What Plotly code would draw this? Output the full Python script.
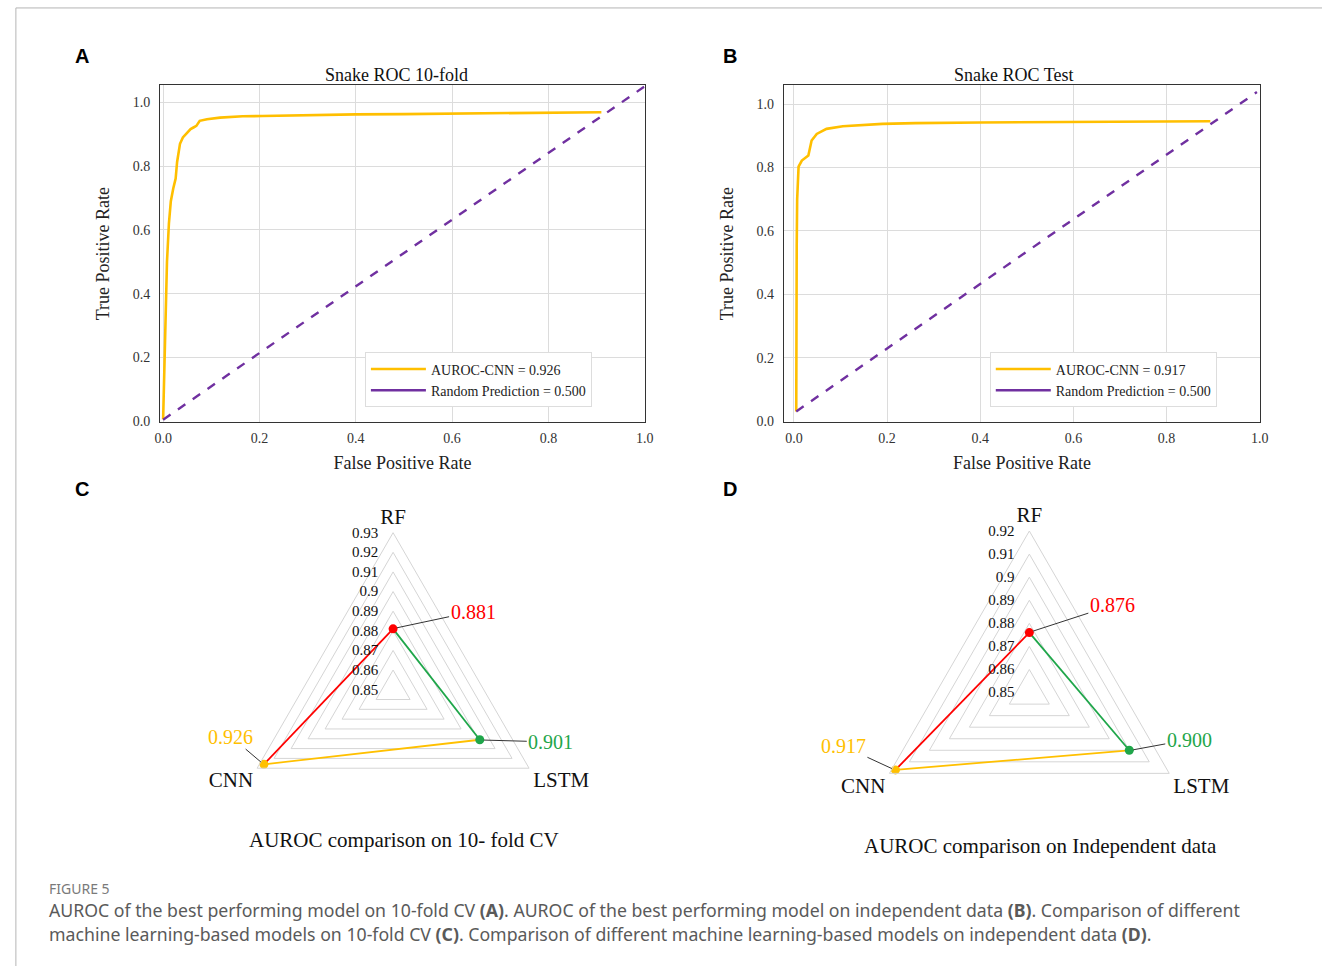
import math
import plotly.graph_objects as go

W, H = 1331, 973

# ---------------- data ----------------
# Panel A: ROC 10-fold
fpr_cv = [0.0, 0.002, 0.005, 0.008, 0.012, 0.016, 0.021, 0.026, 0.029, 0.035, 0.041, 0.050,
          0.057, 0.063, 0.069, 0.076, 0.091, 0.118, 0.165, 0.206, 0.30, 0.40, 0.50, 0.60,
          0.70, 0.80, 0.91]
tpr_cv = [0.006, 0.15, 0.32, 0.50, 0.62, 0.69, 0.73, 0.761, 0.813, 0.870, 0.890, 0.906,
          0.916, 0.921, 0.926, 0.942, 0.947, 0.952, 0.956, 0.957, 0.960, 0.962, 0.963, 0.965,
          0.966, 0.968, 0.969]
rand_cv_x = [0.0, 1.0]
rand_cv_y = [0.005, 1.05]

# Panel B: ROC test
fpr_test = [0.005, 0.005, 0.006, 0.007, 0.008, 0.010, 0.017, 0.031, 0.038, 0.049, 0.070,
            0.105, 0.190, 0.261, 0.40, 0.60, 0.75, 0.894]
tpr_test = [0.031, 0.30, 0.55, 0.70, 0.76, 0.803, 0.822, 0.838, 0.885, 0.906, 0.922,
            0.930, 0.9375, 0.940, 0.942, 0.944, 0.946, 0.946]
rand_test_x = [0.005, 0.994]
rand_test_y = [0.031, 1.038]

roc_ticks = [0.0, 0.2, 0.4, 0.6, 0.8, 1.0]

# Panels C / D: radar
models = ["RF", "LSTM", "CNN"]
auc_cv = [0.881, 0.901, 0.926]
auc_ind = [0.876, 0.900, 0.917]
radar_cv_range = [0.85, 0.93]
radar_ind_range = [0.85, 0.92]

legend_cv = ["AUROC-CNN = 0.926", "Random Prediction = 0.500"]
legend_test = ["AUROC-CNN = 0.917", "Random Prediction = 0.500"]

# ---------------- styles ----------------
SERIF = "Liberation Serif"
SANS = "Liberation Sans"
C_ROC = "#FFBF00"
C_RAND = "#7030A0"
model_colors = {"RF": "#FF0000", "LSTM": "#1FA64A", "CNN": "#FFC000"}
angle_of = {"RF": 90.0, "LSTM": -30.0, "CNN": 210.0}


def px_x(px):
    return px / W


def px_y(py):
    return 1 - py / H


fig = go.Figure()

# ---------------- ROC panels ----------------
def add_roc(fx, fy, rx, ry, names, xa, ya, leg):
    fig.add_trace(go.Scatter(x=fx, y=fy, mode="lines", name=names[0],
                             line=dict(color=C_ROC, width=2.6), xaxis=xa, yaxis=ya,
                             legend=leg))
    fig.add_trace(go.Scatter(x=rx, y=ry, mode="lines", name=names[1], showlegend=False,
                             line=dict(color=C_RAND, width=2.4, dash="dash"), xaxis=xa, yaxis=ya))
    # legend sample drawn solid, as in the reference legend
    fig.add_trace(go.Scatter(x=[None], y=[None], mode="lines", name=names[1],
                             line=dict(color=C_RAND, width=2.6), xaxis=xa, yaxis=ya,
                             legend=leg))


add_roc(fpr_cv, tpr_cv, rand_cv_x, rand_cv_y, legend_cv, "x", "y", "legend")
add_roc(fpr_test, tpr_test, rand_test_x, rand_test_y, legend_test, "x2", "y2", "legend2")

tickfont = dict(family=SERIF, size=14, color="#333333")
titlefont = dict(family=SERIF, size=18, color="#222222")


def xaxis_cfg(x0, x1, rng):
    return dict(domain=[px_x(x0), px_x(x1)], range=rng, tickvals=roc_ticks, tickformat=".1f",
                showgrid=True, gridcolor="#dcdcdc", gridwidth=1, zeroline=False,
                showline=True, linecolor="#333333", linewidth=1.3, mirror=True,
                ticks="outside", ticklen=3, tickcolor="rgba(0,0,0,0)", tickfont=tickfont,
                title=dict(text="False Positive Rate", font=titlefont, standoff=11))


def yaxis_cfg(y0, y1, rng):
    return dict(domain=[px_y(y1), px_y(y0)], range=rng, tickvals=roc_ticks, tickformat=".1f",
                showgrid=True, gridcolor="#dcdcdc", gridwidth=1, zeroline=False,
                showline=True, linecolor="#333333", linewidth=1.3, mirror=True,
                ticks="outside", ticklen=6, tickcolor="rgba(0,0,0,0)", tickfont=tickfont,
                title=dict(text="True Positive Rate", font=titlefont, standoff=18))


# ---------------- radar panels ----------------
dom_cv = (232.7, 535.9, 550.3, 853.5)     # px: x0, y0, x1, y1
dom_ind = (871.6, 534.2, 1198.4, 861.0)


def polar_layout(dom, rng):
    x0, y0, x1, y1 = dom
    return dict(
        domain=dict(x=[px_x(x0), px_x(x1)], y=[px_y(y1), px_y(y0)]),
        gridshape="linear",
        bgcolor="white",
        radialaxis=dict(range=rng, dtick=0.01, tick0=0.85, angle=90, tickangle=90,
                        side="counterclockwise", showline=False, ticks="outside", ticklen=9,
                        tickcolor="rgba(0,0,0,0)",
                        gridcolor="#d5d5d5", gridwidth=1,
                        tickfont=dict(family=SERIF, size=15, color="#111111")),
        angularaxis=dict(type="category", categoryorder="array", categoryarray=models,
                         rotation=90, direction="clockwise", showgrid=False,
                         linecolor="#d5d5d5", linewidth=1, ticks="",
                         tickfont=dict(family=SERIF, size=21, color="#111111")),
    )


def add_radar(vals, subplot):
    val = dict(zip(models, vals))
    segs = [("RF", "LSTM"), ("LSTM", "CNN"), ("CNN", "RF")]
    for a, b in segs:
        fig.add_trace(go.Scatterpolar(r=[val[a], val[b]], theta=[a, b], mode="lines",
                                      line=dict(color=model_colors[b], width=1.8),
                                      showlegend=False, subplot=subplot, hoverinfo="skip"))
    fig.add_trace(go.Scatterpolar(r=[val[m] for m in models], theta=models, mode="markers",
                                  marker=dict(color=[model_colors[m] for m in models], size=9),
                                  showlegend=False, subplot=subplot))


add_radar(auc_cv, "polar")
add_radar(auc_ind, "polar2")


def polar_point(dom, rng, r, theta_deg):
    x0, y0, x1, y1 = dom
    cx, cy = (x0 + x1) / 2, (y0 + y1) / 2
    R = min(x1 - x0, y1 - y0) / 2
    f = (r - rng[0]) / (rng[1] - rng[0])
    t = math.radians(theta_deg)
    return cx + f * R * math.cos(t), cy - f * R * math.sin(t)


annotations = []

# value labels with leader lines
label_offsets_cv = {"RF": (80, -17), "LSTM": (71, 2), "CNN": (-33, -28)}
label_offsets_ind = {"RF": (83, -27), "LSTM": (60, -11), "CNN": (-52, -24)}
for vals, dom, rng, offs in [(auc_cv, dom_cv, radar_cv_range, label_offsets_cv),
                             (auc_ind, dom_ind, radar_ind_range, label_offsets_ind)]:
    for m, v in zip(models, vals):
        px, py = polar_point(dom, rng, v, angle_of[m])
        ax, ay = offs[m]
        annotations.append(dict(x=px_x(px), y=px_y(py), xref="paper", yref="paper",
                                text=f"{v:.3f}", showarrow=True, arrowhead=0, arrowwidth=1,
                                arrowcolor="#333333", ax=ax, ay=ay, standoff=4,
                                font=dict(family=SERIF, size=20, color=model_colors[m])))


def text_ann(x, y, text, size, family=SERIF, color="#111111", xanchor="center"):
    annotations.append(dict(x=px_x(x), y=px_y(y), xref="paper", yref="paper", text=text,
                            showarrow=False, xanchor=xanchor, yanchor="middle",
                            font=dict(family=family, size=size, color=color)))


text_ann(395, 76, "Snake ROC 10-fold", 18)
text_ann(1019, 76, "Snake ROC Test", 18)
text_ann(403, 846, "AUROC comparison on 10- fold CV", 21)
text_ann(1046, 852, "AUROC comparison on Independent data", 21)

# panel letters
for lx, ly, letter in [(77, 56, "A"), (732, 56, "B"), (77, 493, "C"), (732, 493, "D")]:
    text_ann(lx, ly, f"<b>{letter}</b>", 20, family=SANS, color="#000000")

# caption
text_ann(41, 895, "FIGURE 5", 14, family="Noto Sans", color="#7a7a7a", xanchor="left")
text_ann(41, 917, "AUROC of the best performing model on 10-fold CV <b>(A)</b>. AUROC of the best "
         "performing model on independent data <b>(B)</b>. Comparison of different",
         17.7, family="Noto Sans", color="#5a5a5a", xanchor="left")
text_ann(41, 941, "machine learning-based models on 10-fold CV <b>(C)</b>. Comparison of different "
         "machine learning-based models on independent data <b>(D)</b>.",
         17.7, family="Noto Sans", color="#5a5a5a", xanchor="left")

shapes = [
    dict(type="line", xref="paper", yref="paper", x0=px_x(10), x1=1, y0=px_y(8), y1=px_y(8),
         line=dict(color="#b5b5b5", width=1)),
    dict(type="line", xref="paper", yref="paper", x0=px_x(10), x1=px_x(10), y0=px_y(8), y1=0,
         line=dict(color="#b5b5b5", width=1)),
]

legend_common = dict(xanchor="left", yanchor="top", bgcolor="white", bordercolor="#dddddd",
                     borderwidth=1, font=dict(family=SERIF, size=14, color="#222222"),
                     itemwidth=55, tracegroupgap=0)

fig.update_layout(
    width=W, height=H, autosize=False,
    margin=dict(l=0, r=0, t=0, b=0),
    paper_bgcolor="white", plot_bgcolor="white",
    xaxis=xaxis_cfg(156, 646, [-0.006, 1.0]),
    yaxis=yaxis_cfg(86, 425, [-0.002, 1.053]),
    xaxis2=xaxis_cfg(787, 1268, [-0.021, 1.0]),
    yaxis2=yaxis_cfg(86, 425, [-0.002, 1.059]),
    polar=polar_layout(dom_cv, radar_cv_range),
    polar2=polar_layout(dom_ind, radar_ind_range),
    legend=dict(x=px_x(363), y=px_y(355), **legend_common),
    legend2=dict(x=px_x(995), y=px_y(355), **legend_common),
    annotations=annotations,
    shapes=shapes,
    showlegend=True,
    hovermode=False,
)
fig.update_layout(yaxis2=dict(anchor="x2"), xaxis2=dict(anchor="y2"))

page_fix = (
    "var h=document.documentElement, b=document.body;"
    "h.style.margin='0';h.style.padding='0';h.style.overflow='hidden';"
    "b.style.margin='0';b.style.padding='0';b.style.overflow='hidden';"
)

fig.write_html("out.html", config={"displayModeBar": False, "staticPlot": True},
               post_script=page_fix)
